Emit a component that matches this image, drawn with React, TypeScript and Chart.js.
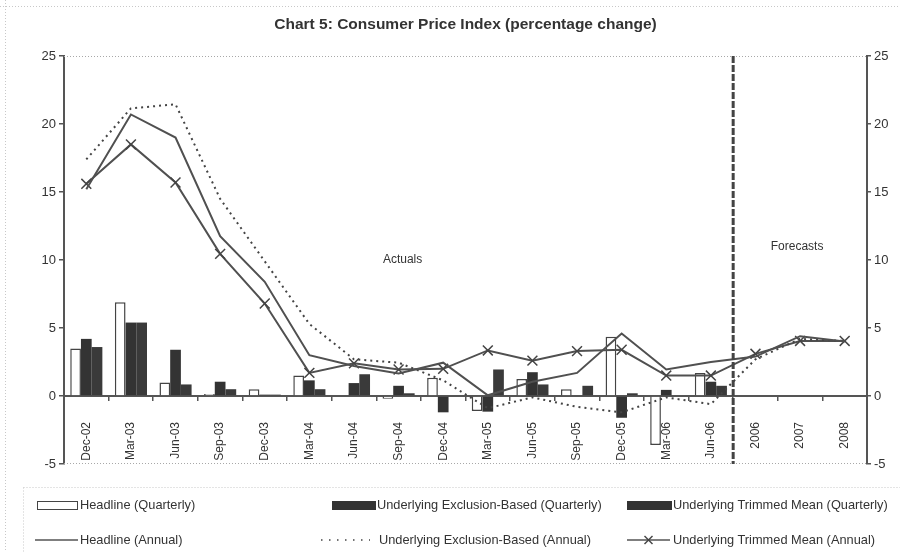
import React, { useEffect, useRef } from "react";
import { Chart, registerables } from "chart.js";

Chart.register(...registerables);

const FONT = '"Liberation Sans", Arial, Helvetica, sans-serif';

const categories = [
  "Dec-02", "Mar-03", "Jun-03", "Sep-03", "Dec-03", "Mar-04", "Jun-04", "Sep-04", "Dec-04",
  "Mar-05", "Jun-05", "Sep-05", "Dec-05", "Mar-06", "Jun-06", "2006", "2007", "2008",
];

const headlineQuarterly = [3.5, 6.9, 1.0, 0.15, 0.5, 1.5, 0.0, -0.2, 1.35, -1.1, 1.25, 0.5, 4.35, -3.6, 1.7, null, null, null];
const exclusionQuarterly = [4.2, 5.4, 3.4, 1.05, 0.1, 1.15, 0.95, 0.75, -1.2, -1.15, 1.75, 0.0, -1.6, 0.45, 1.05, null, null, null];
const trimmedQuarterly = [3.6, 5.4, 0.85, 0.5, 0.1, 0.5, 1.6, 0.2, 0.0, 1.95, 0.85, 0.75, 0.2, 0.0, 0.75, null, null, null];

const headlineAnnual = [15.2, 20.7, 19.0, 11.75, 8.4, 3.0, 2.2, 1.65, 2.45, 0.05, 1.05, 1.7, 4.6, 1.95, 2.5, 2.9, 4.4, 4.0];
const exclusionAnnual = [17.4, 21.15, 21.45, 14.5, 9.9, 5.3, 2.7, 2.45, 1.15, -0.9, -0.1, -0.8, -1.2, -0.1, -0.6, 2.7, 4.2, 4.05];
const trimmedAnnual = [15.6, 18.5, 15.7, 10.45, 6.8, 1.7, 2.4, 1.95, 2.0, 3.35, 2.6, 3.3, 3.4, 1.5, 1.5, 3.1, 4.05, 4.05];

const yTicks = [-5, 0, 5, 10, 15, 20, 25];

const titleText = "Chart 5: Consumer Price Index (percentage change)";
const labelHQ = "Headline (Quarterly)";
const labelEQ = "Underlying Exclusion-Based (Quarterly)";
const labelTQ = "Underlying Trimmed Mean (Quarterly)";
const labelHA = "Headline (Annual)";
const labelEA = "Underlying Exclusion-Based (Annual)";
const labelTA = "Underlying Trimmed Mean (Annual)";
const actualsText = "Actuals";
const forecastsText = "Forecasts";
const lastActualIndex = 14;

const AXIS = "#555";
const TEXT = "#333";

const decorPlugin = {
  id: "decor",
  beforeDatasetsDraw(chart: any) {
    const { ctx, chartArea: a } = chart;
    ctx.save();
    ctx.strokeStyle = "#a8a8a8";
    ctx.lineWidth = 1;
    ctx.setLineDash([1, 2]);
    ctx.beginPath();
    ctx.moveTo(a.left, a.top + 0.5);
    ctx.lineTo(a.right, a.top + 0.5);
    ctx.moveTo(a.left, a.bottom - 0.5);
    ctx.lineTo(a.right, a.bottom - 0.5);
    ctx.stroke();
    ctx.strokeStyle = "#c8c8c8";
    ctx.beginPath();
    ctx.moveTo(0, 6.5);
    ctx.lineTo(chart.width, 6.5);
    ctx.moveTo(5.5, 0);
    ctx.lineTo(5.5, chart.height);
    ctx.moveTo(23.5, 487.5);
    ctx.lineTo(chart.width, 487.5);
    ctx.moveTo(23.5, 487.5);
    ctx.lineTo(23.5, chart.height);
    ctx.stroke();
    ctx.restore();
  },
  afterDatasetsDraw(chart: any) {
    const { ctx, chartArea: a, scales } = chart;
    const xs = scales.x;
    const ys = scales.y;
    ctx.save();
    const xv = (xs.getPixelForValue(lastActualIndex) + xs.getPixelForValue(lastActualIndex + 1)) / 2;
    ctx.strokeStyle = "#444";
    ctx.lineWidth = 3;
    ctx.setLineDash([7, 2]);
    ctx.beginPath();
    ctx.moveTo(xv, a.top);
    ctx.lineTo(xv, a.bottom);
    ctx.stroke();
    ctx.setLineDash([]);
    ctx.fillStyle = TEXT;
    ctx.font = `12px ${FONT}`;
    ctx.textAlign = "center";
    ctx.textBaseline = "middle";
    ctx.fillText(actualsText, xs.getPixelForValue(7) + 4, ys.getPixelForValue(10));
    ctx.fillText(forecastsText, xs.getPixelForValue(16) - 3, ys.getPixelForValue(11));
    ctx.restore();
  },
};

function Swatch({ kind, width }: { kind: string; width: number }) {
  if (kind === "box") {
    return <div style={{ width, height: 9, boxSizing: "border-box", border: "1.5px solid #444", background: "#fff" }} />;
  }
  if (kind === "fill") {
    return <div style={{ width, height: 9, background: "#333" }} />;
  }
  if (kind === "line") {
    return (
      <svg width={width} height={12}>
        <line x1={0} y1={6} x2={width} y2={6} stroke="#555" strokeWidth={1.5} />
      </svg>
    );
  }
  if (kind === "dots") {
    return (
      <svg width={width} height={12}>
        <line x1={0} y1={6} x2={width} y2={6} stroke="#444" strokeWidth={1.5} strokeDasharray="1.5,6.5" />
      </svg>
    );
  }
  const m = width / 2;
  return (
    <svg width={width} height={12}>
      <line x1={0} y1={6} x2={width} y2={6} stroke="#555" strokeWidth={1.5} />
      <line x1={m - 4} y1={2} x2={m + 4} y2={10} stroke="#444" strokeWidth={1.5} />
      <line x1={m - 4} y1={10} x2={m + 4} y2={2} stroke="#444" strokeWidth={1.5} />
    </svg>
  );
}

function LegendItem({ left, textLeft, cy, kind, sw, label }: any) {
  return (
    <>
      <div style={{ position: "absolute", left, top: cy - 6, height: 12, display: "flex", alignItems: "center" }}>
        <Swatch kind={kind} width={sw} />
      </div>
      <div
        style={{
          position: "absolute",
          left: textLeft,
          top: cy - 8,
          height: 16,
          lineHeight: "16px",
          fontFamily: FONT,
          fontSize: 12.8,
          color: TEXT,
          whiteSpace: "nowrap",
        }}
      >
        {label}
      </div>
    </>
  );
}

export default function App() {
  const canvasRef = useRef<HTMLCanvasElement | null>(null);

  useEffect(() => {
    if (!canvasRef.current) return;
    const chart = new Chart(canvasRef.current, {
      type: "bar",
      data: {
        labels: categories,
        datasets: [
          {
            type: "line",
            label: labelHA,
            data: headlineAnnual,
            borderColor: "#505050",
            borderWidth: 2,
            pointRadius: 0,
            tension: 0,
            order: 0,
            yAxisID: "y",
          } as any,
          {
            type: "line",
            label: labelEA,
            data: exclusionAnnual,
            borderColor: "#444",
            borderWidth: 2,
            borderDash: [2, 4],
            pointRadius: 0,
            tension: 0,
            order: 0,
            yAxisID: "y",
          } as any,
          {
            type: "line",
            label: labelTA,
            data: trimmedAnnual,
            borderColor: "#505050",
            borderWidth: 2,
            pointStyle: "crossRot",
            pointRadius: 7,
            pointBorderWidth: 1.5,
            pointBorderColor: "#444",
            pointBackgroundColor: "rgba(0,0,0,0)",
            tension: 0,
            order: 0,
            yAxisID: "y",
          } as any,
          {
            type: "bar",
            label: labelHQ,
            data: headlineQuarterly,
            backgroundColor: "#ffffff",
            borderColor: "#444",
            borderWidth: 1.5,
            categoryPercentage: 0.72,
            barPercentage: 1,
            order: 1,
            yAxisID: "y",
          } as any,
          {
            type: "bar",
            label: labelEQ,
            data: exclusionQuarterly,
            backgroundColor: "#333",
            borderWidth: 0,
            categoryPercentage: 0.72,
            barPercentage: 1,
            order: 1,
            yAxisID: "y",
          } as any,
          {
            type: "bar",
            label: labelTQ,
            data: trimmedQuarterly,
            backgroundColor: "#3a3a3a",
            borderWidth: 0,
            categoryPercentage: 0.72,
            barPercentage: 1,
            order: 1,
            yAxisID: "y",
          } as any,
        ],
      },
      options: {
        responsive: false,
        animation: false,
        layout: { padding: { left: 0, right: 0, top: 0, bottom: 88 } },
        plugins: {
          legend: { display: false },
          tooltip: { enabled: false },
          title: {
            display: true,
            text: titleText,
            fullSize: false,
            color: TEXT,
            font: { family: FONT, size: 15.5, weight: "bold" },
            padding: { top: 15, bottom: 22.4 },
          },
        },
        scales: {
          x: {
            position: { y: 0 } as any,
            offset: true,
            grid: {
              display: true,
              drawOnChartArea: false,
              drawTicks: true,
              tickLength: 4,
              color: AXIS,
              lineWidth: 1.5,
              offset: true,
            },
            border: { display: true, color: AXIS, width: 2 },
            ticks: {
              autoSkip: false,
              maxRotation: 90,
              minRotation: 90,
              padding: 22,
              color: TEXT,
              font: { family: FONT, size: 12 },
            },
          },
          y: {
            position: "left",
            min: -5,
            max: 25,
            afterFit: (s: any) => {
              s.width = 64;
            },
            afterBuildTicks: (s: any) => {
              s.ticks = yTicks.map((v) => ({ value: v }));
            },
            grid: { drawOnChartArea: false, tickLength: 5, color: AXIS, lineWidth: 1.5 },
            border: { color: AXIS, width: 2 },
            ticks: { padding: 3, color: TEXT, font: { family: FONT, size: 13 } },
          },
          y2: {
            position: "right",
            min: -5,
            max: 25,
            afterFit: (s: any) => {
              s.width = 33;
            },
            afterBuildTicks: (s: any) => {
              s.ticks = yTicks.map((v) => ({ value: v }));
            },
            grid: { drawOnChartArea: false, tickLength: 4, color: AXIS, lineWidth: 1.5 },
            border: { color: AXIS, width: 2 },
            ticks: { padding: 3, color: TEXT, font: { family: FONT, size: 13 } },
          },
        },
      } as any,
      plugins: [decorPlugin],
    });
    return () => chart.destroy();
  }, []);

  return (
    <div style={{ position: "absolute", left: 0, top: 0, width: 900, height: 552, background: "#fff", overflow: "hidden" }}>
      <canvas ref={canvasRef} width={900} height={552} style={{ display: "block", width: 900, height: 552 }} />
      <LegendItem left={37} textLeft={80} cy={505} kind="box" sw={41} label={labelHQ} />
      <LegendItem left={332} textLeft={377} cy={505} kind="fill" sw={44} label={labelEQ} />
      <LegendItem left={627} textLeft={673} cy={505} kind="fill" sw={45} label={labelTQ} />
      <LegendItem left={35} textLeft={80} cy={540} kind="line" sw={43} label={labelHA} />
      <LegendItem left={321} textLeft={379} cy={540} kind="dots" sw={49} label={labelEA} />
      <LegendItem left={627} textLeft={673} cy={540} kind="xline" sw={43} label={labelTA} />
    </div>
  );
}
